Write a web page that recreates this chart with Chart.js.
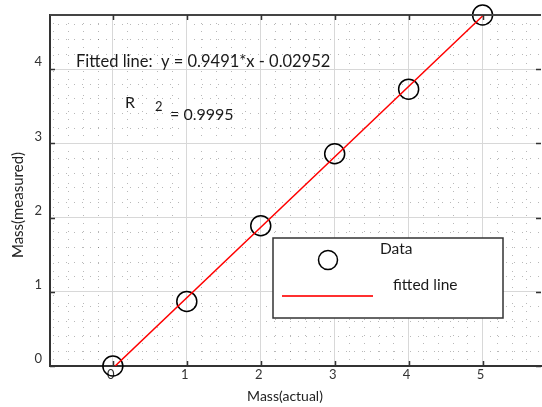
<!DOCTYPE html>
<html><head><meta charset="utf-8">
<script src="https://cdn.jsdelivr.net/npm/chart.js@4.4.0/dist/chart.umd.min.js"></script>
<style>html,body{margin:0;padding:0;background:#fff;}#wrap{width:542px;height:407px;}</style>
</head><body><div id="wrap"><canvas id="c" width="542" height="407"></canvas></div>
<script>
const massActual = [0, 1, 2, 3, 4, 5];
const massMeasured = [0, 0.87, 1.89, 2.86, 3.73, 4.73];
const fitX = [0, 5];
const fitY = [-0.0295, 4.716];
const xTicks = [0, 1, 2, 3, 4, 5];
const yTicks = [0, 1, 2, 3, 4];
const equationText = 'Fitted line:  y = 0.9491*x - 0.02952';
const r2Parts = ['R', '2', '= 0.9995'];
const legendLabels = ['Data', 'fitted line'];
const xTitle = 'Mass(actual)';
const yTitle = 'Mass(measured)';

const FONT = 'Lato, "Open Sans", sans-serif';
const X_MIN = -0.85, X_MAX = 5.79, Y_MIN = 0, Y_MAX = 4.73;

function minorTicks(lo, hi, step) {
  const out = [];
  for (let v = Math.ceil(lo / step) * step; v <= hi + 1e-9; v += step) out.push({value: +v.toFixed(4)});
  return out;
}

const framePlugin = {
  id: 'frame',
  afterDraw(chart) {
    const ctx = chart.ctx, a = chart.chartArea, xs = chart.scales.x, ys = chart.scales.y;
    ctx.save();
    // top border
    ctx.strokeStyle = '#444'; ctx.lineWidth = 2;
    ctx.beginPath(); ctx.moveTo(a.left, a.top); ctx.lineTo(a.right, a.top); ctx.stroke();
    // inner tick marks
    ctx.strokeStyle = '#333'; ctx.lineWidth = 1.5;
    xTicks.forEach(v => {
      const px = Math.round(xs.getPixelForValue(v)) + 0.5;
      ctx.beginPath(); ctx.moveTo(px, a.bottom); ctx.lineTo(px, a.bottom - 5); ctx.stroke();
      ctx.beginPath(); ctx.moveTo(px, a.top); ctx.lineTo(px, a.top + 5); ctx.stroke();
    });
    yTicks.forEach(v => {
      const py = Math.round(ys.getPixelForValue(v)) + 0.5;
      ctx.beginPath(); ctx.moveTo(a.left, py); ctx.lineTo(a.left + 5, py); ctx.stroke();
      ctx.beginPath(); ctx.moveTo(a.right, py); ctx.lineTo(a.right - 5, py); ctx.stroke();
    });
    // axis titles
    ctx.fillStyle = '#222';
    ctx.textBaseline = 'middle';
    ctx.textAlign = 'center';
    ctx.font = '14px ' + FONT;
    ctx.fillText(xTitle, 285, 396);
    ctx.save();
    ctx.translate(18, 205);
    ctx.rotate(-Math.PI / 2);
    ctx.font = '15px ' + FONT;
    ctx.fillText(yTitle, 0, 0);
    ctx.restore();
    // annotation text
    ctx.fillStyle = '#1a1a1a';
    ctx.textAlign = 'left';
    ctx.font = '16.5px ' + FONT;
    ctx.fillText(equationText, a.left + 26, a.top + 47);
    ctx.font = '16px ' + FONT;
    ctx.fillText(r2Parts[0], a.left + 75, a.top + 88);
    ctx.font = '13px ' + FONT;
    ctx.fillText(r2Parts[1], a.left + 105, a.top + 92);
    ctx.font = '16px ' + FONT;
    ctx.fillText(r2Parts[2], a.left + 120, a.top + 100);
    // legend box
    const lx = 273, ly = 238, lw = 230, lh = 80;
    ctx.fillStyle = '#fff';
    ctx.fillRect(lx, ly, lw, lh);
    ctx.strokeStyle = '#333'; ctx.lineWidth = 1.5;
    ctx.strokeRect(lx, ly, lw, lh);
    ctx.strokeStyle = '#000'; ctx.lineWidth = 1.5;
    ctx.beginPath(); ctx.arc(lx + 55, ly + 22, 9.5, 0, Math.PI * 2); ctx.stroke();
    ctx.strokeStyle = '#ff3030'; ctx.lineWidth = 2;
    ctx.beginPath(); ctx.moveTo(lx + 9, ly + 58); ctx.lineTo(lx + 100, ly + 58); ctx.stroke();
    ctx.fillStyle = '#1a1a1a';
    ctx.font = '15.5px ' + FONT;
    ctx.fillText(legendLabels[0], lx + 107, ly + 11);
    ctx.fillText(legendLabels[1], lx + 120, ly + 47);
    ctx.restore();
  }
};

new Chart(document.getElementById('c'), {
  type: 'scatter',
  data: {
    datasets: [
      {
        label: legendLabels[1], type: 'line',
        data: fitX.map((x, i) => ({x, y: fitY[i]})),
        borderColor: '#ff0000', borderWidth: 1.5, pointRadius: 0, fill: false, tension: 0
      },
      {
        label: legendLabels[0],
        data: massActual.map((x, i) => ({x, y: massMeasured[i]})),
        pointRadius: 10, pointHoverRadius: 10, borderColor: '#000', borderWidth: 1.5,
        backgroundColor: 'rgba(0,0,0,0)', clip: false
      }
    ]
  },
  options: {
    responsive: false, animation: false, devicePixelRatio: 1,
    layout: {autoPadding: false, padding: {top: 15, right: 1, left: 0, bottom: 0}},
    plugins: {legend: {display: false}, tooltip: {enabled: false}},
    scales: {
      xMinor: {
        type: 'linear', position: 'bottom', min: X_MIN, max: X_MAX, z: -1,
        afterBuildTicks: s => { s.ticks = minorTicks(X_MIN, X_MAX, 0.2); },
        ticks: {display: false},
        grid: {color: 'rgba(0,0,0,0.28)', lineWidth: 1, drawTicks: false},
        border: {display: false, dash: [1, 7]},
        afterFit: s => { s.height = 0; s.paddingLeft = 0; s.paddingRight = 0; }
      },
      yMinor: {
        type: 'linear', position: 'left', min: Y_MIN, max: Y_MAX, z: -1,
        afterBuildTicks: s => { s.ticks = minorTicks(Y_MIN, Y_MAX, 0.2); },
        ticks: {display: false},
        grid: {color: 'rgba(0,0,0,0.28)', lineWidth: 1, drawTicks: false},
        border: {display: false, dash: [1, 7]},
        afterFit: s => { s.width = 0; s.paddingTop = 0; s.paddingBottom = 0; }
      },
      x: {
        type: 'linear', position: 'bottom', min: X_MIN, max: X_MAX,
        afterBuildTicks: s => { s.ticks = xTicks.map(v => ({value: v})); },
        ticks: {color: '#333', font: {family: FONT, size: 13}, padding: 1, labelOffset: -2},
        grid: {color: '#d8d8d8', lineWidth: 1, drawTicks: false},
        border: {display: true, color: '#333', width: 2},
        title: {display: false, text: xTitle},
        afterFit: s => { s.height = 41; s.paddingLeft = 0; s.paddingRight = 0; }
      },
      y: {
        type: 'linear', position: 'left', min: Y_MIN, max: Y_MAX,
        afterBuildTicks: s => { s.ticks = yTicks.map(v => ({value: v})); },
        ticks: {color: '#333', font: {family: FONT, size: 13}, padding: 8, labelOffset: -7},
        grid: {color: '#d8d8d8', lineWidth: 1, drawTicks: false},
        border: {display: true, color: '#333', width: 2},
        title: {display: false, text: yTitle},
        afterFit: s => { s.width = 50; s.paddingTop = 0; s.paddingBottom = 0; }
      }
    }
  },
  plugins: [framePlugin]
});
</script>
</body></html>
